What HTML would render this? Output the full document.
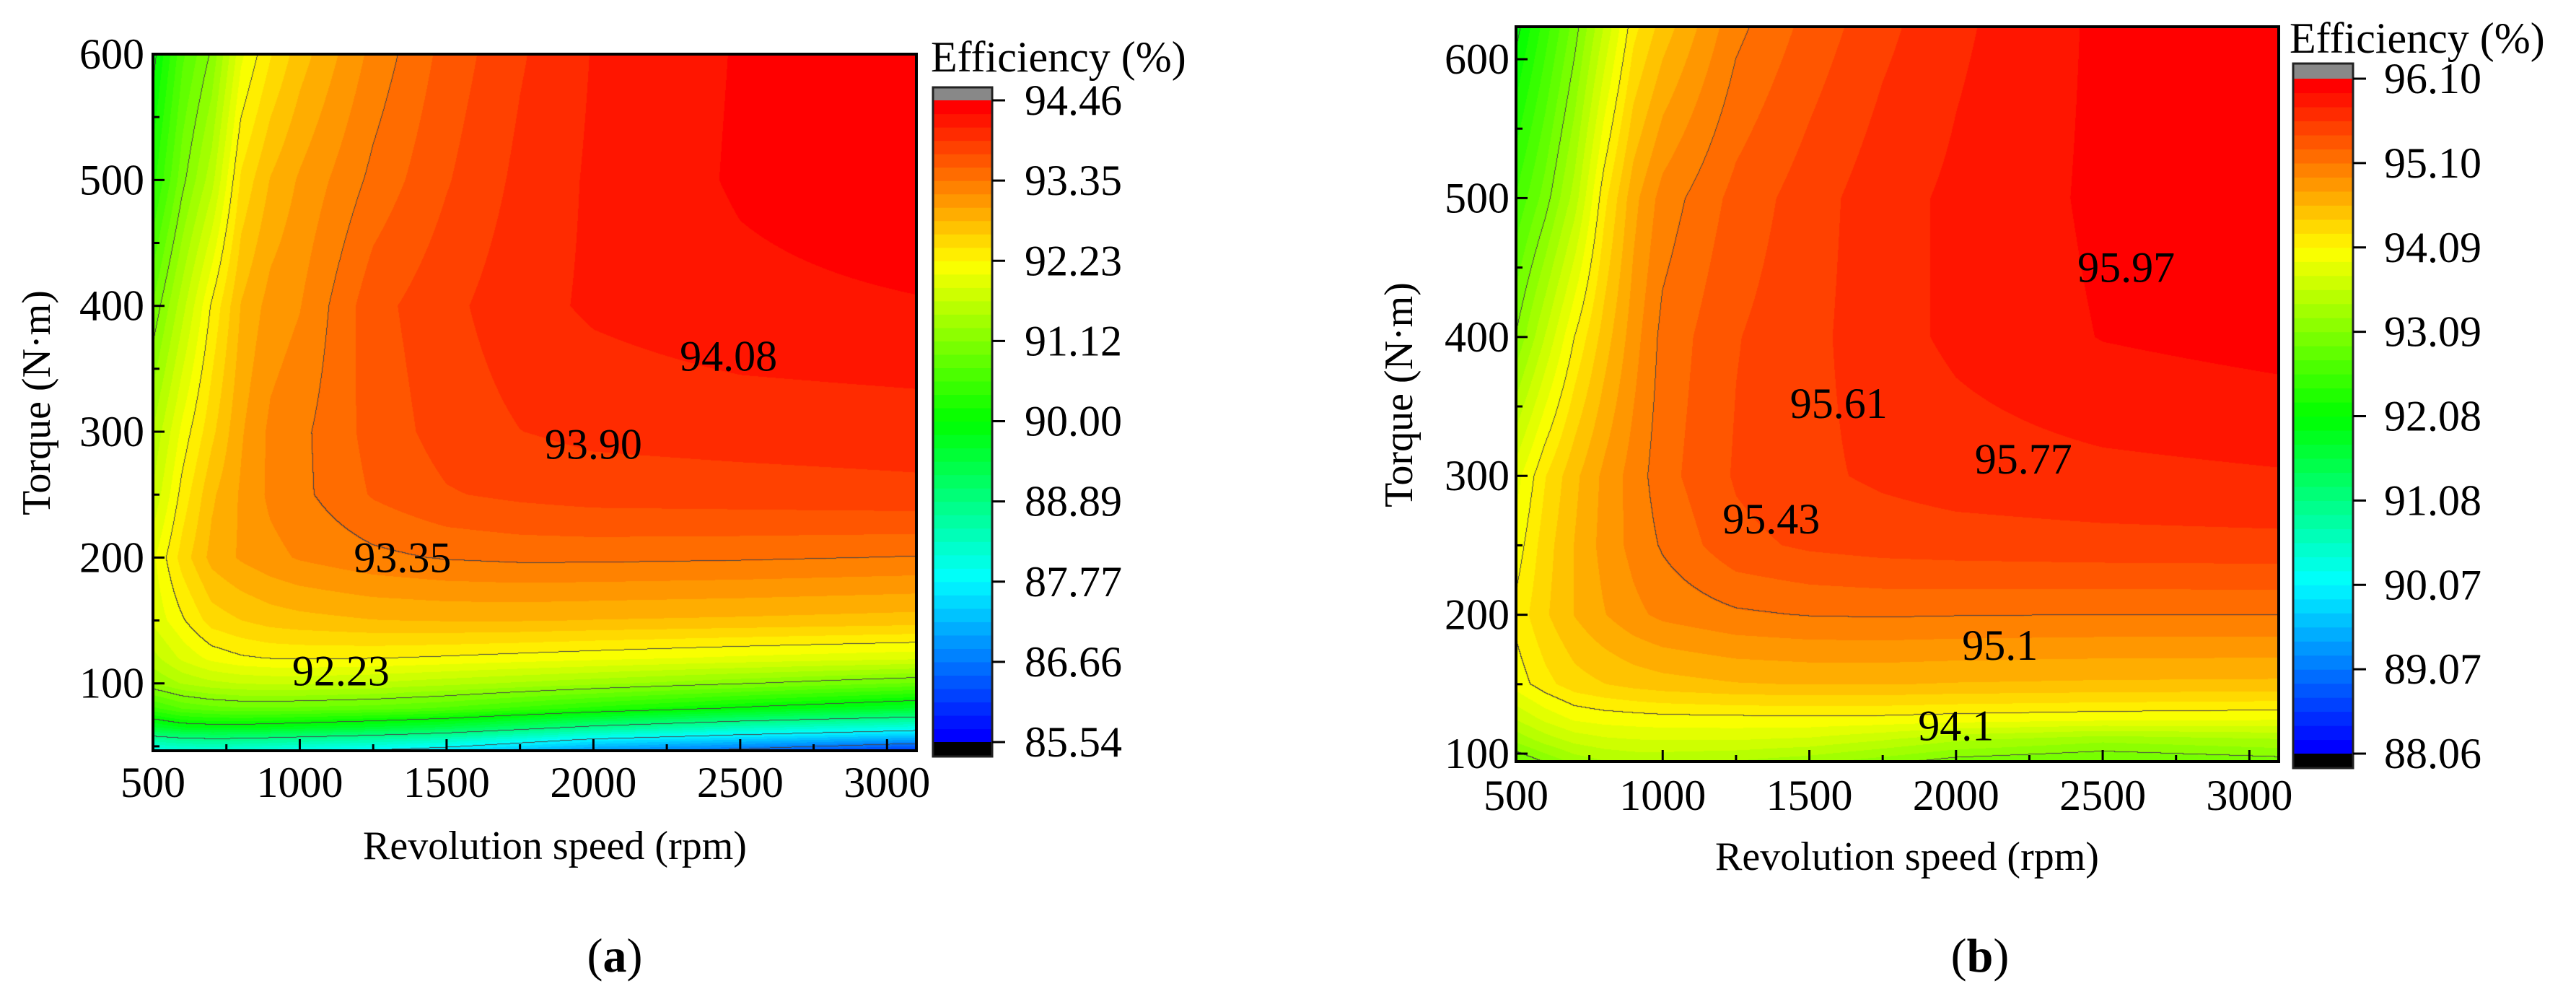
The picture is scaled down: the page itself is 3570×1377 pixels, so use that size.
<!DOCTYPE html>
<html><head><meta charset="utf-8"><style>
html,body{margin:0;padding:0;background:#fff;}
#root{position:relative;width:3570px;height:1377px;overflow:hidden;background:#fff;font-family:"Liberation Serif","DejaVu Serif",serif;}
canvas{position:absolute;}
svg{position:absolute;left:0;top:0;}
svg text{font-family:"Liberation Serif","DejaVu Serif",serif;}
</style></head><body>
<div id="root">
<canvas id="cva"></canvas>
<canvas id="cvb"></canvas>
<svg id="svg" width="3570" height="1377"></svg>
</div>
<script>
// ---------- data: plot (a) ----------
const aSpeeds = [500,600,700,800,900,1000,1250,1500,1750,2000,2500,3100];
const aTorques = [46,55,65,80,100,120,150,200,250,300,400,500,600];
const aEff = [
[87.9,88.0,88.05,88.0,87.95,87.85,87.7,87.5,87.2,86.9,86.5,86.0],
[88.6,88.75,88.8,88.78,88.72,88.65,88.5,88.3,88.0,87.7,87.35,87.0],
[89.6,89.8,89.85,89.85,89.8,89.75,89.6,89.4,89.1,88.8,88.4,88.05],
[90.5,90.75,90.85,90.9,90.9,90.88,90.82,90.7,90.5,90.3,89.95,89.6],
[91.3,91.5,91.62,91.68,91.7,91.7,91.65,91.55,91.45,91.35,91.15,90.9],
[91.6,91.9,92.1,92.2,92.24,92.25,92.24,92.2,92.15,92.1,92.0,91.9],
[91.9,92.2,92.5,92.6,92.68,92.72,92.78,92.8,92.8,92.78,92.75,92.7],
[92.0,92.5,92.85,93.0,93.1,93.18,93.3,93.37,93.4,93.4,93.38,93.34],
[91.7,92.3,92.75,93.0,93.2,93.3,93.55,93.7,93.76,93.8,93.82,93.85],
[91.5,92.1,92.55,92.95,93.2,93.3,93.6,93.8,93.9,93.95,93.98,94.0],
[90.95,91.6,92.25,92.8,93.05,93.15,93.65,93.85,94.02,94.12,94.22,94.26],
[90.3,91.05,91.6,92.45,92.8,93.0,93.4,93.7,93.95,94.12,94.3,94.42],
[89.9,90.7,91.15,92.0,92.4,92.7,93.22,93.6,93.88,94.1,94.29,94.4]
];
const aLevels = [93.35,92.23,91.12,90.0,88.89,87.77,86.66];
const aBarTicks = ["94.46","93.35","92.23","91.12","90.00","88.89","87.77","86.66","85.54"];
const aLabels = ["94.08","93.90","93.35","92.23"];
const aLabelSpeed = [2460,2000,1350,1140];
const aLabelTorque = [360,290,200,110];
// ---------- data: plot (b) ----------
const bSpeeds = [500,600,700,800,900,1000,1250,1500,1750,2000,2500,3100];
const bTorques = [94,110,125,150,200,250,300,400,500,623];
const bEff = [
[92.9,93.1,93.3,93.4,93.45,93.45,93.4,93.3,93.15,93.0,92.9,93.0],
[93.3,93.5,93.65,93.72,93.75,93.76,93.76,93.72,93.6,93.45,93.3,93.4],
[93.6,93.8,93.95,94.0,94.02,94.04,94.05,94.06,94.05,94.02,93.98,93.95],
[94.0,94.2,94.35,94.42,94.48,94.52,94.58,94.6,94.6,94.58,94.56,94.55],
[94.15,94.4,94.6,94.75,94.88,94.97,95.07,95.11,95.12,95.11,95.1,95.1],
[94.0,94.35,94.6,94.82,94.98,95.12,95.38,95.46,95.5,95.52,95.54,95.55],
[93.85,94.25,94.55,94.8,95.0,95.2,95.45,95.56,95.63,95.68,95.72,95.75],
[93.1,93.6,94.1,94.5,94.85,95.15,95.42,95.55,95.7,95.8,95.94,96.0],
[92.6,93.0,93.5,94.2,94.7,95.0,95.32,95.52,95.7,95.8,95.97,96.05],
[92.0,92.5,93.0,93.6,94.2,94.5,95.05,95.32,95.55,95.73,95.97,96.05]
];
const bLevels = [95.1,94.1,93.09,92.08];
const bBarTicks = ["96.10","95.10","94.09","93.09","92.08","91.08","90.07","89.07","88.06"];
const bLabels = ["95.97","95.61","95.77","95.43","95.1","94.1"];
const bLabelSpeed = [2580,1600,2230,1370,2150,2000];
const bLabelTorque = [450,352,312,269,178,120];
const xTicks = [500,1000,1500,2000,2500,3000];
const yTicks = [100,200,300,400,500,600];

const NS="http://www.w3.org/2000/svg";
const svg=document.getElementById('svg');
function el(tag,attrs,parent){const e=document.createElementNS(NS,tag);for(const k in attrs)e.setAttribute(k,attrs[k]);(parent||svg).appendChild(e);return e;}
function txt(s,x,y,size,anchor,parent,name){const t=el('text',{x:x,y:y,'font-size':size,'text-anchor':anchor||'middle','dominant-baseline':'central',fill:'#000'},parent);
t.style.fontFamily='"Liberation Serif","DejaVu Serif",serif';
t.textContent=s;


return t;}
function locate(arr,v){if(v<=arr[0])return[0,0];const n=arr.length;if(v>=arr[n-1])return[n-2,1];for(let i=0;i<n-1;i++){if(v<=arr[i+1])return[i,(v-arr[i])/(arr[i+1]-arr[i])];}return[n-2,1];}
function bilin(sp,tq,grid,s,t){const[i,fx]=locate(sp,s);const[j,fy]=locate(tq,t);const a=grid[j][i],b=grid[j][i+1],c=grid[j+1][i],d=grid[j+1][i+1];return a*(1-fx)*(1-fy)+b*fx*(1-fy)+c*(1-fx)*fy+d*fx*fy;}
function hsl2rgb(h){h/=60;const x=1-Math.abs(h%2-1);let r,g,b;if(h<1){r=1;g=x;b=0}else if(h<2){r=x;g=1;b=0}else if(h<3){r=0;g=1;b=x}else if(h<4){r=0;g=x;b=1}else{r=x;g=0;b=1}return[r*255|0,g*255|0,b*255|0];}
const NB=48;
function bandColor(k){return hsl2rgb(240*(1-k/(NB-1)));}

function plot(cfg){
  const {cv,L,R,T,B,xmin,xmax,ymin,ymax,sp,tq,grid,vmin,vmax,levels,name}=cfg;
  const X=s=>L+(s-xmin)/(xmax-xmin)*(R-L);
  const Y=t=>B-(t-ymin)/(ymax-ymin)*(B-T);
  const W=R-L,H=B-T;
  cv.width=W;cv.height=H;cv.style.left=L+'px';cv.style.top=T+'px';
  const ctx=cv.getContext('2d');const img=ctx.createImageData(W,H);
  const vals=new Float32Array(W*H);
  for(let py=0;py<H;py++){const t=ymax-(py+0.5)/H*(ymax-ymin);
    for(let px=0;px<W;px++){const s=xmin+(px+0.5)/W*(xmax-xmin);vals[py*W+px]=bilin(sp,tq,grid,s,t);}}
  for(let p=0;p<W*H;p++){let k=Math.floor((vals[p]-vmin)/(vmax-vmin)*NB);k=Math.max(0,Math.min(NB-1,k));const c=bandColor(k);img.data[p*4]=c[0];img.data[p*4+1]=c[1];img.data[p*4+2]=c[2];img.data[p*4+3]=255;}
  for(let py=0;py<H-1;py++)for(let px=0;px<W-1;px++){const p=py*W+px;const v=vals[p],vr=vals[p+1],vd=vals[p+W];
    for(const lv of levels){if((v-lv)*(vr-lv)<0||(v-lv)*(vd-lv)<0){img.data[p*4]=70;img.data[p*4+1]=70;img.data[p*4+2]=70;break;}}}
  ctx.putImageData(img,0,0);
  const g=el('g',{});
  
  
  el('rect',{x:L,y:T,width:W,height:H,fill:'none',stroke:'#000','stroke-width':4},g);
  for(let s=500;s<=xmax;s+=250){const maj=s%500===0;el('line',{x1:X(s),x2:X(s),y1:B,y2:B-(maj?16:9),stroke:'#000','stroke-width':3},g);}
  for(const s of xTicks){txt(String(s),X(s),cfg.xlabY,60,'middle',g,name+'-x-tick-'+s);}
  for(let t=Math.ceil(ymin/50)*50;t<=ymax;t+=50){const maj=t%100===0;el('line',{x1:L,x2:L+(maj?16:9),y1:Y(t),y2:Y(t),stroke:'#000','stroke-width':3},g);}
  for(const t of yTicks){txt(String(t),cfg.ylabR,Y(t),60,'end',g,name+'-y-tick-'+t);}
  return {X,Y};
}
function colorbar(cfg){
  const {x,w,gTop,top,bot,ticks,name,labX}=cfg;
  const g=el('g',{});
  
  
  el('rect',{x:x,y:gTop,width:w,height:top-gTop,fill:'#888'},g);
  const bh=(bot-top)/NB;
  for(let k=0;k<NB;k++){const c=bandColor(k);el('rect',{x:x,y:bot-(k+1)*bh,width:w,height:bh+0.6,fill:`rgb(${c[0]},${c[1]},${c[2]})`},g);}
  el('rect',{x:x,y:bot,width:w,height:20,fill:'#000'},g);
  el('rect',{x:x,y:gTop,width:w,height:bot+20-gTop,fill:'none',stroke:'#222','stroke-width':3},g);
  ticks.forEach((s,i)=>{const y=top+i*(bot-top)/(ticks.length-1);el('line',{x1:x+w,x2:x+w+18,y1:y,y2:y,stroke:'#000','stroke-width':3},g);txt(s,labX,y,60,'start',g,name+'-colorbar-tick-'+i);});
}
const pa=plot({cv:document.getElementById('cva'),L:212,R:1270,T:75,B:1040,xmin:500,xmax:3100,ymin:46.5,ymax:600,sp:aSpeeds,tq:aTorques,grid:aEff,vmin:85.54,vmax:94.46,levels:aLevels,name:'plot-a',xlabY:1084,ylabR:200});
const pb=plot({cv:document.getElementById('cvb'),L:2101,R:3158,T:37,B:1055,xmin:500,xmax:3100,ymin:94.3,ymax:623.4,sp:bSpeeds,tq:bTorques,grid:bEff,vmin:88.06,vmax:96.10,levels:bLevels,name:'plot-b',xlabY:1102,ylabR:2092});
colorbar({x:1293,w:82,gTop:121,top:139,bot:1028,ticks:aBarTicks,name:'plot-a',labX:1420});
colorbar({x:3178,w:83,gTop:88,top:109,bot:1044,ticks:bBarTicks,name:'plot-b',labX:3304});
aLabels.forEach((s,i)=>txt(s,pa.X(aLabelSpeed[i]),pa.Y(aLabelTorque[i]),60,'middle',svg,'contour-label-a-'+i));
bLabels.forEach((s,i)=>txt(s,pb.X(bLabelSpeed[i]),pb.Y(bLabelTorque[i]),60,'middle',svg,'contour-label-b-'+i));
txt('Efficiency (%)',1290,79,60,'start',svg,'colorbar-title-a');
txt('Efficiency (%)',3173,53,60,'start',svg,'colorbar-title-b');
txt('Revolution speed (rpm)',769,1172,56,'middle',svg,'x-axis-title-a');
txt('Revolution speed (rpm)',2643,1187,56,'middle',svg,'x-axis-title-b');
const ya=txt('Torque (N·m)',51,558,56,'middle',svg,'y-axis-title-a');ya.setAttribute('transform','rotate(-90 51 558)');
const yb=txt('Torque (N·m)',1939,547,56,'middle',svg,'y-axis-title-b');yb.setAttribute('transform','rotate(-90 1939 547)');
const ca=txt('',852,1324,66,'middle',svg,'panel-label-a');ca.innerHTML='(<tspan font-weight="bold">a</tspan>)';
const cb=txt('',2744,1324,66,'middle',svg,'panel-label-b');cb.innerHTML='(<tspan font-weight="bold">b</tspan>)';
</script>
</body></html>
